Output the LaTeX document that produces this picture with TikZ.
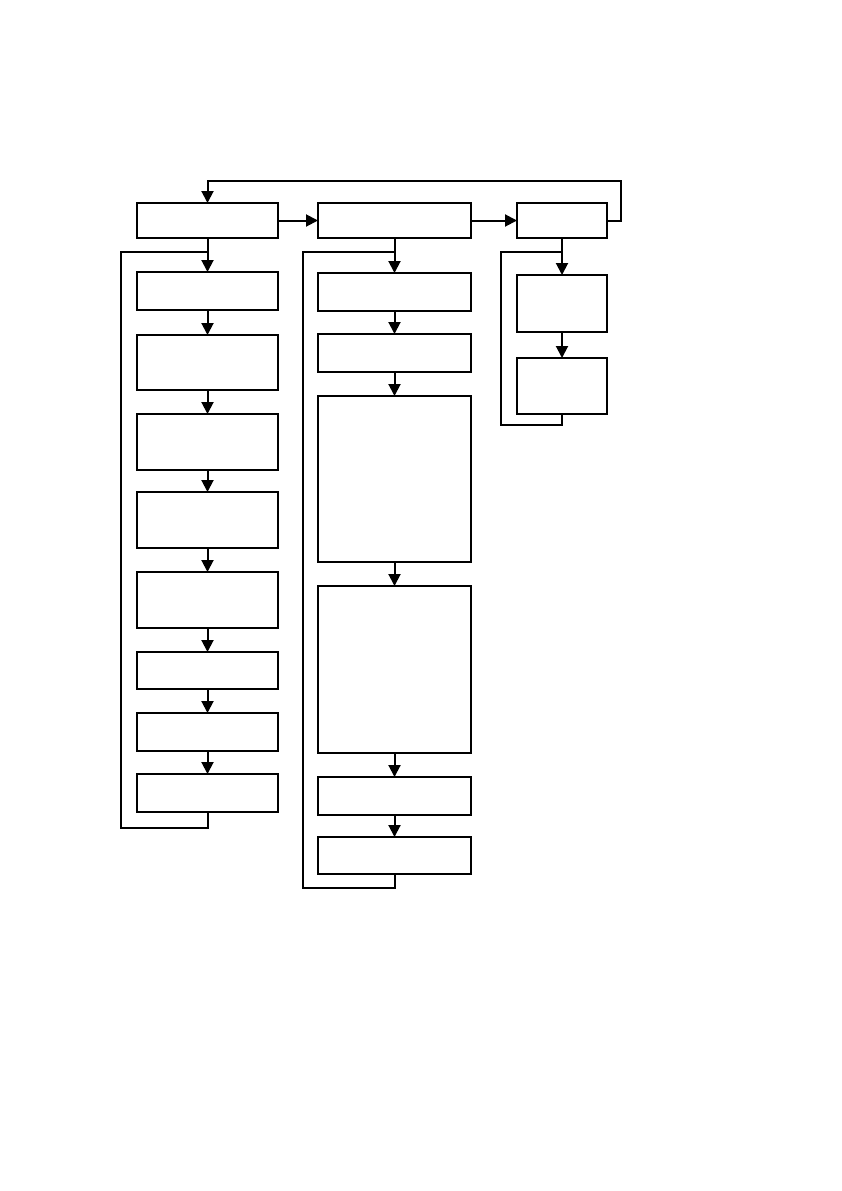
\documentclass[tikz,border=0pt]{standalone}
\usetikzlibrary{arrows.meta}
\begin{document}
\begin{tikzpicture}[x=1bp,y=1bp,
  box/.style={draw,line width=2.1bp,rectangle,inner sep=0pt,outer sep=0pt},
  c1/.style={box,minimum width=141bp},
  c2/.style={box,minimum width=153bp},
  c3/.style={box,minimum width=90bp},
  arr/.style={line width=2bp,-{Triangle[length=12bp,width=12bp]}},
  ln/.style={line width=2bp}]
\useasboundingbox (0,0) rectangle (842,-1191);
% column 1
\node[c1,minimum height=35bp] (A1) at (207.5,-220.5) {};
\node[c1,minimum height=38bp] (B1) at (207.5,-291) {};
\node[c1,minimum height=55bp] (B2) at (207.5,-362.5) {};
\node[c1,minimum height=56bp] (B3) at (207.5,-442) {};
\node[c1,minimum height=56bp] (B4) at (207.5,-520) {};
\node[c1,minimum height=56bp] (B5) at (207.5,-600) {};
\node[c1,minimum height=37bp] (B6) at (207.5,-670.5) {};
\node[c1,minimum height=38bp] (B7) at (207.5,-732) {};
\node[c1,minimum height=38bp] (B8) at (207.5,-793) {};
% column 2
\node[c2,minimum height=35bp] (A2) at (394.5,-220.5) {};
\node[c2,minimum height=38bp] (C1) at (394.5,-292) {};
\node[c2,minimum height=38bp] (C2) at (394.5,-353) {};
\node[c2,minimum height=166bp] (C3) at (394.5,-479) {};
\node[c2,minimum height=167bp] (C4) at (394.5,-669.5) {};
\node[c2,minimum height=38bp] (C5) at (394.5,-796) {};
\node[c2,minimum height=37bp] (C6) at (394.5,-855.5) {};
% column 3
\node[c3,minimum height=35bp] (A3) at (562,-220.5) {};
\node[c3,minimum height=57bp] (D1) at (562,-303.5) {};
\node[c3,minimum height=56bp] (D2) at (562,-386) {};
% horizontal arrows
\draw[arr] (A1.east) -- (A2.west);
\draw[arr] (A2.east) -- (A3.west);
% top feedback
\coordinate (t1) at (621,-181);
\draw[arr] (A3.east) -| (t1) -| (A1.north);
% vertical arrows
\draw[arr] (A1.south) -- (B1.north);
\draw[arr] (B1.south) -- (B2.north);
\draw[arr] (B2.south) -- (B3.north);
\draw[arr] (B3.south) -- (B4.north);
\draw[arr] (B4.south) -- (B5.north);
\draw[arr] (B5.south) -- (B6.north);
\draw[arr] (B6.south) -- (B7.north);
\draw[arr] (B7.south) -- (B8.north);
\draw[arr] (A2.south) -- (C1.north);
\draw[arr] (C1.south) -- (C2.north);
\draw[arr] (C2.south) -- (C3.north);
\draw[arr] (C3.south) -- (C4.north);
\draw[arr] (C4.south) -- (C5.north);
\draw[arr] (C5.south) -- (C6.north);
\draw[arr] (A3.south) -- (D1.north);
\draw[arr] (D1.south) -- (D2.north);
% loops
\coordinate (l1b) at (207.5,-828);
\coordinate (l1c) at (121,-828);
\coordinate (l1t) at (121,-252);
\coordinate (l1e) at (208.5,-252);
\draw[ln] (B8.south) -- (l1b) -- (l1c) -- (l1t) -- (l1e);
\coordinate (l2b) at (394.5,-888);
\coordinate (l2c) at (303,-888);
\coordinate (l2t) at (303,-252);
\coordinate (l2e) at (395.5,-252);
\draw[ln] (C6.south) -- (l2b) -- (l2c) -- (l2t) -- (l2e);
\coordinate (l3b) at (562,-425);
\coordinate (l3c) at (501,-425);
\coordinate (l3t) at (501,-252);
\coordinate (l3e) at (563,-252);
\draw[ln] (D2.south) -- (l3b) -- (l3c) -- (l3t) -- (l3e);
\end{tikzpicture}
\end{document}
